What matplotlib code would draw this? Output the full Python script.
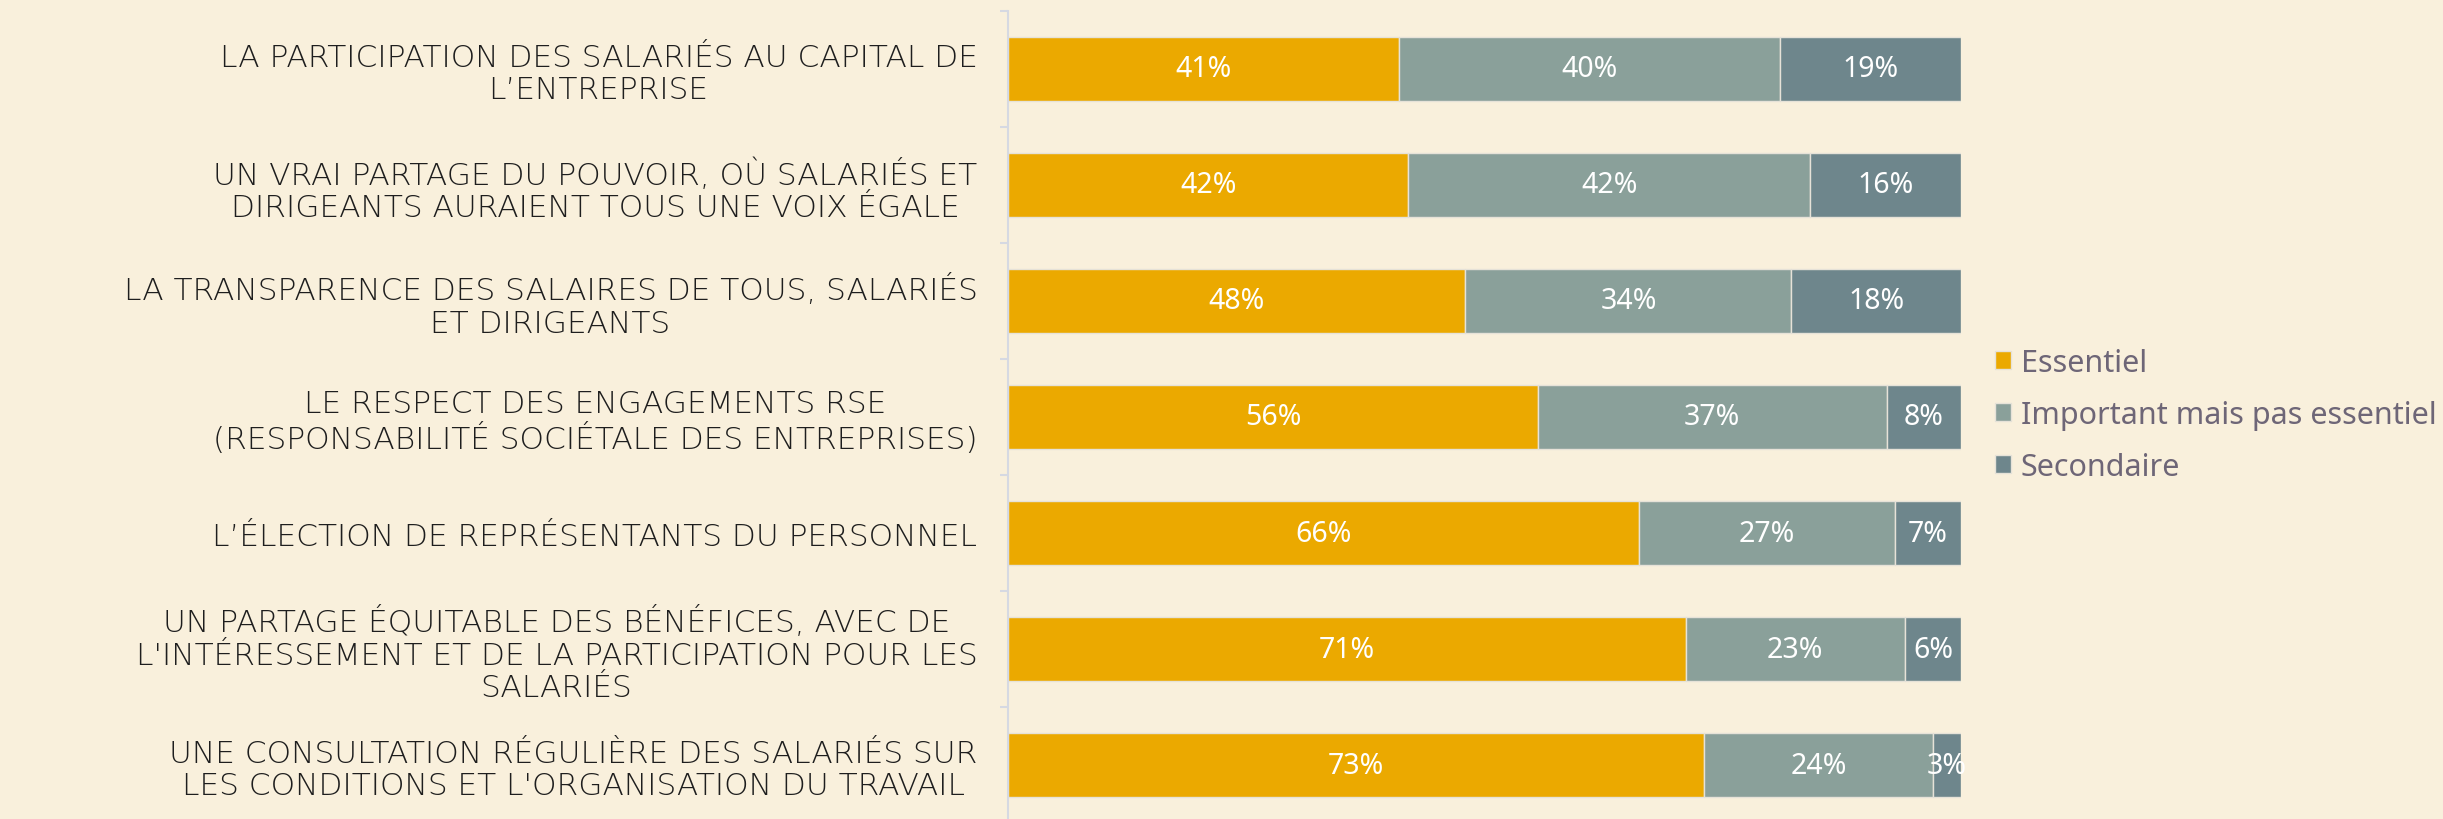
import numpy as np
import matplotlib.pyplot as plt

# Survey answers, top to bottom
labels = [
    "LA PARTICIPATION DES SALARIÉS AU CAPITAL DE\nL’ENTREPRISE",
    "UN VRAI PARTAGE DU POUVOIR, OÙ SALARIÉS ET\nDIRIGEANTS AURAIENT TOUS UNE VOIX ÉGALE",
    "LA TRANSPARENCE DES SALAIRES DE TOUS, SALARIÉS\nET DIRIGEANTS",
    "LE RESPECT DES ENGAGEMENTS RSE\n(RESPONSABILITÉ SOCIÉTALE DES ENTREPRISES)",
    "L’ÉLECTION DE REPRÉSENTANTS DU PERSONNEL",
    "UN PARTAGE ÉQUITABLE DES BÉNÉFICES, AVEC DE\nL'INTÉRESSEMENT ET DE LA PARTICIPATION POUR LES\nSALARIÉS",
    "UNE CONSULTATION RÉGULIÈRE DES SALARIÉS SUR\nLES CONDITIONS ET L'ORGANISATION DU TRAVAIL",
]
essentiel = [41.0, 42.0, 48.0, 55.6, 66.2, 71.1, 73.0]
important = [40.0, 42.2, 34.2, 36.6, 26.9, 23.0, 24.1]
secondaire = [19.0, 15.8, 17.8, 7.8, 6.9, 5.9, 2.9]

series = ['Essentiel', 'Important mais pas essentiel', 'Secondaire']
colors = ['#EBA900', '#8AA09A', '#6E868C']
bg = '#F9F0DC'

fig = plt.figure(figsize=(24.43, 8.2), dpi=100, facecolor=bg)
ax = fig.add_axes([0.4126, -0.0049, 0.3901, 0.9903])
ax.set_facecolor(bg)

y_pos = np.arange(len(labels))
left = np.zeros(len(labels))
for name, vals, col in zip(series, [essentiel, important, secondaire], colors):
    bars = ax.barh(y_pos, vals, left=left, height=0.55, color=col,
                   edgecolor='#E6E2D8', linewidth=1, label=name)
    for b, v in zip(bars, vals):
        ax.text(b.get_x() + b.get_width() / 2, b.get_y() + b.get_height() / 2,
                '{:.0f}%'.format(v), ha='center', va='center',
                color='white', fontsize=20.5, family=['Noto Sans', 'DejaVu Sans'],
                fontweight='light')
    left += np.array(vals)

ax.set_xlim(0, 100)
ax.set_ylim(6.5, -0.5)
ax.set_xticks([])

ax.set_yticks(y_pos)
ax.set_yticklabels(labels, fontsize=22.5, color='#1E1E1E',
                   family=['DejaVu Sans'], fontweight='light')
for lbl in ax.get_yticklabels():
    lbl.set_multialignment('center')
    lbl.set_linespacing(1.15)
ax.tick_params(axis='y', which='major', length=0, pad=22)
ax.set_yticks(np.arange(-0.5, 7, 1), minor=True)
ax.tick_params(axis='y', which='minor', length=6, width=1.5, color='#D6D9E2')

for s in ['top', 'right', 'bottom']:
    ax.spines[s].set_visible(False)
ax.spines['left'].set_color('#D6D9E2')
ax.spines['left'].set_linewidth(1.5)

leg = ax.legend(loc='center left', bbox_to_anchor=(1.0, 0.503), frameon=False,
                handlelength=0.55, handleheight=0.55, handletextpad=0.3,
                labelspacing=0.72, borderaxespad=0.7,
                prop={'family': ['Noto Sans', 'DejaVu Sans'], 'size': 22,
                      'weight': 'light'})
for t in leg.get_texts():
    t.set_color('#6E6677')

fig.savefig('out.png', dpi=100, facecolor=bg)
